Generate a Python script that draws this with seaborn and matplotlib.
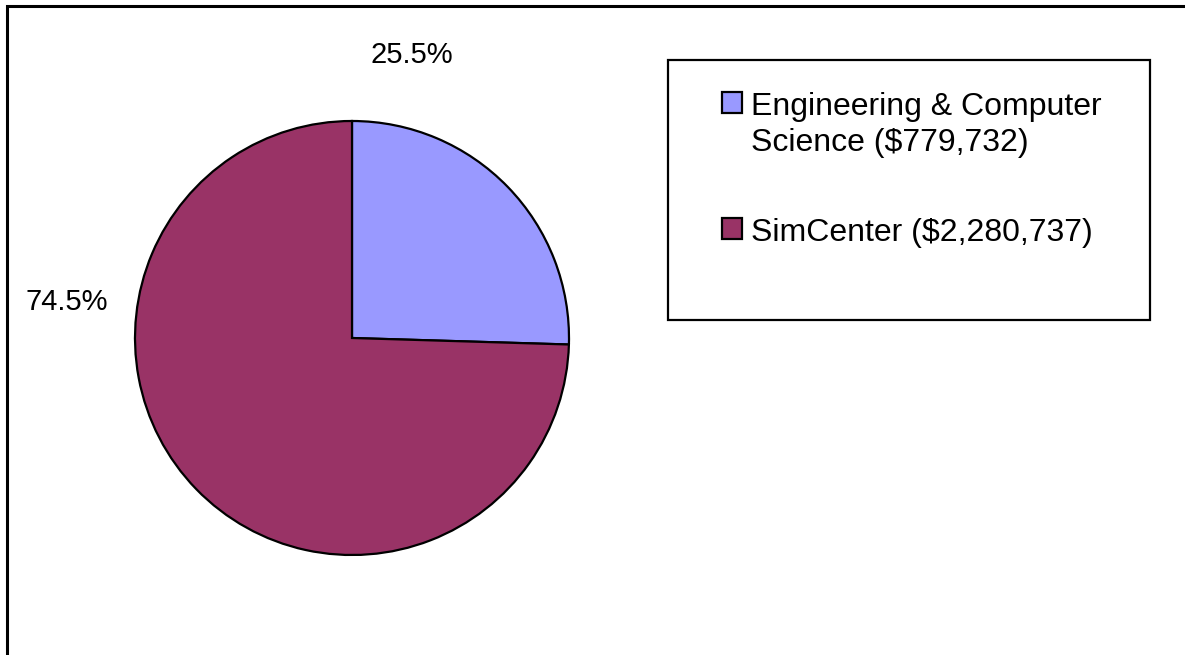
import matplotlib
matplotlib.use("Agg")
import matplotlib.pyplot as plt
import seaborn as sns
from matplotlib.patches import Rectangle

# data
departments = ["Engineering & Computer\nScience ($779,732)", "SimCenter ($2,280,737)"]
amounts = [779732, 2280737]
slice_colors = ["#9999FF", "#993366"]

sns.set_theme(style="white")
plt.rcParams["font.family"] = ["Liberation Sans", "DejaVu Sans"]
plt.rcParams["text.color"] = "black"

W, H = 1185, 655
fig = plt.figure(figsize=(W / 100, H / 100), dpi=100)
fig.patch.set_facecolor("white")

# pie axes: center (352, 338) px, radius 217 px
cx, cy, r = 352, 338, 217
ax = fig.add_axes([(cx - r) / W, (H - cy - r) / H, 2 * r / W, 2 * r / H])
wedges, _ = ax.pie(amounts, colors=slice_colors, startangle=90, counterclock=False,
                   wedgeprops=dict(edgecolor="black", linewidth=1.6))
ax.set_xlim(-1, 1)
ax.set_ylim(-1, 1)
ax.set_aspect("equal")

total = sum(amounts)
label_pos = [(0.276, 1.305), (-1.315, 0.166)]
for amt, (lx, ly) in zip(amounts, label_pos):
    ax.text(lx, ly, f"{amt / total * 100:.1f}%", ha="center", va="center",
            fontsize=21, color="black", clip_on=False)

# outer chart border (only top and left visible)
fig.add_artist(Rectangle((7 / W, -0.5), 2, 1 - 5.5 / H + 0.5, transform=fig.transFigure,
                         fill=False, edgecolor="black", linewidth=2.2))

# legend box
fig.add_artist(Rectangle((668 / W, 1 - 320 / H), (1150 - 668) / W, (320 - 60) / H,
                         transform=fig.transFigure, fill=False, edgecolor="black",
                         linewidth=1.6))
leg = fig.legend(wedges, departments, loc="upper left",
                 bbox_to_anchor=(722 / W, 1 - 92 / H), frameon=False, fontsize=23,
                 borderpad=0, borderaxespad=0, handlelength=0.62, handleheight=0.62,
                 handletextpad=0.3, labelspacing=1.9)
for t in leg.get_texts():
    t.set_color("black")
    t.set_linespacing(1.25)
for col in leg._legend_handle_box.get_children():
    for row in col.get_children():
        row.align = "top"

fig.savefig("out.png", dpi=100, facecolor="white")
